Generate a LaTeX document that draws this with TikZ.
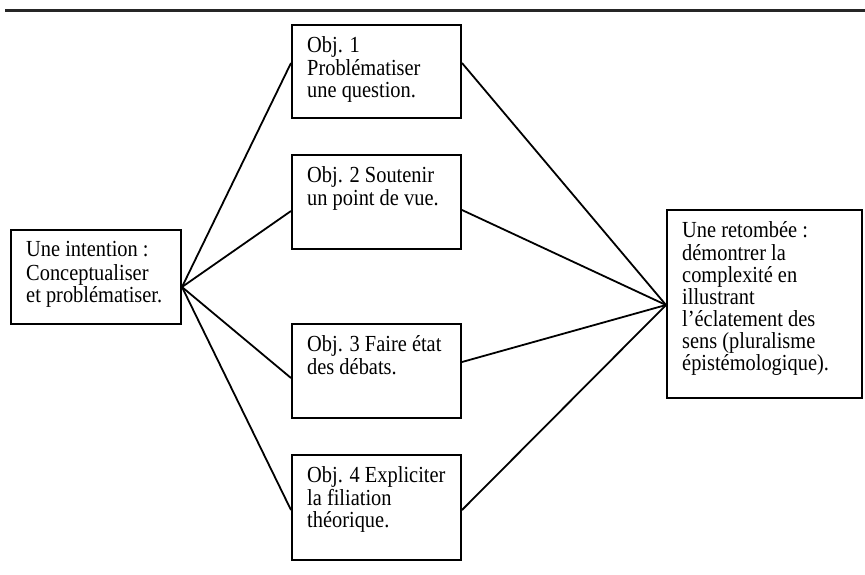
\documentclass[tikz,border=0pt]{standalone}
\usepackage{fontspec}
\setmainfont{Liberation Serif}
\usetikzlibrary{calc,fit}
\newcommand\vsc[1]{\scalebox{1.02}[1.15]{#1}}
\begin{document}
\begin{tikzpicture}[x=1pt,y=-1pt,
  box/.style={draw,line width=2pt,inner sep=0pt,rectangle},
  txt/.style={anchor=north west,inner sep=0pt,align=left,font=\fontsize{20}{22}\selectfont},
  conn/.style={line width=1.8pt},
  rulestyle/.style={line width=3pt,draw=black!85}]
\useasboundingbox (0,0) rectangle (865,574);
\coordinate (ra) at (5,10);
\coordinate (rb) at (865,10);
\draw[rulestyle] (ra) -- (rb);
% boxes
\node[box,fit={(11,230)(181,324)}] (L) {};
\node[box,fit={(292,25)(461,118)}] (o1) {};
\node[box,fit={(292,155)(461,249)}] (o2) {};
\node[box,fit={(292,324)(461,418)}] (o3) {};
\node[box,fit={(292,455)(461,560)}] (o4) {};
\node[box,fit={(667,210)(862,398)}] (R) {};
% texts
\node[txt] (Lt) at ($(L.north west)+(16,12)$) {\strut\vsc{Une intention :}\\\vsc{Conceptualiser}\\\vsc{et problématiser.}};
\node[txt] (o1t) at ($(o1.north west)+(16,12)$) {\strut\vsc{Obj. 1}\\\vsc{Problématiser}\\\vsc{une question.}};
\node[txt] (o2t) at ($(o2.north west)+(16,12)$) {\strut\vsc{Obj. 2 Soutenir}\\\vsc{un point de vue.}};
\node[txt] (o3t) at ($(o3.north west)+(16,12)$) {\strut\vsc{Obj. 3 Faire état}\\\vsc{des débats.}};
\node[txt] (o4t) at ($(o4.north west)+(16,12)$) {\strut\vsc{Obj. 4 Expliciter}\\\vsc{la filiation}\\\vsc{théorique.}};
\node[txt] (Rt) at ($(R.north west)+(16,12)$) {\strut\vsc{Une retombée :}\\\vsc{démontrer la}\\\vsc{complexité en}\\\vsc{illustrant}\\\vsc{l’éclatement des}\\\vsc{sens (pluralisme}\\\vsc{épistémologique).}};
% connectors
\draw[conn] ($(L.east)+(0,10)$) -- ($(o1.west)+(0,-8.5)$);
\draw[conn] ($(L.east)+(0,10)$) -- ($(o2.west)+(0,9)$);
\draw[conn] ($(L.east)+(0,10)$) -- ($(o3.west)+(0,7)$);
\draw[conn] ($(L.east)+(0,10)$) -- ($(o4.west)+(0,2.5)$);
\draw[conn] ($(o1.east)+(0,-8.5)$) -- ($(R.west)+(0,1)$);
\draw[conn] ($(o2.east)+(0,8)$) -- ($(R.west)+(0,1)$);
\draw[conn] ($(o3.east)+(0,-9)$) -- ($(R.west)+(0,1)$);
\draw[conn] ($(o4.east)+(0,2.5)$) -- ($(R.west)+(0,1)$);
\end{tikzpicture}
\end{document}
